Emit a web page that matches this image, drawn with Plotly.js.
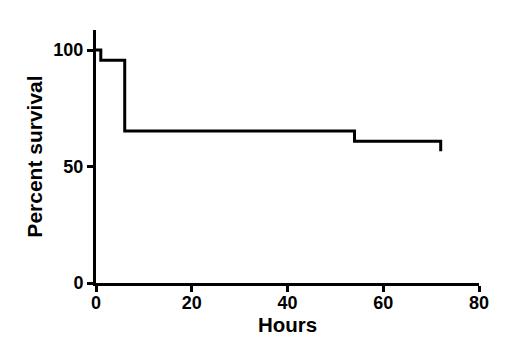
<!DOCTYPE html>
<html>
<head>
<meta charset="utf-8">
<script src="https://cdn.plot.ly/plotly-3.0.1.min.js"></script>
<style>html,body{margin:0;padding:0;background:#fff;}</style>
</head>
<body>
<div id="chart" style="width:525px;height:361px;"></div>
<script>
const hours = [0, 1, 6, 54, 72];
const survival = [100, 95.65, 65.22, 60.87, 56.52];
const xTicks = [0, 20, 40, 60, 80];
const yTicks = [0, 50, 100];

const font = {family: 'Liberation Sans, Arial, sans-serif', color: '#000'};

Plotly.newPlot('chart', [{
  x: hours,
  y: survival,
  type: 'scatter',
  mode: 'lines',
  line: {shape: 'hv', color: '#000', width: 3},
  cliponaxis: false,
  hoverinfo: 'skip'
}], {
  width: 525,
  height: 361,
  margin: {l: 96, r: 46, t: 30, b: 78},
  paper_bgcolor: '#fff',
  plot_bgcolor: '#fff',
  showlegend: false,
  xaxis: {
    range: [0, 80],
    tickvals: xTicks,
    ticktext: xTicks.map(String),
    showgrid: false,
    zeroline: false,
    showline: true,
    linecolor: '#000',
    linewidth: 3,
    ticks: 'outside',
    ticklen: 6,
    tickwidth: 3,
    tickcolor: '#000',
    ticklabelstandoff: -5,
    tickfont: Object.assign({size: 18, weight: 'bold'}, font),
    title: {text: '<b>Hours</b>', font: Object.assign({size: 20.5}, font), standoff: 2},
    automargin: false
  },
  yaxis: {
    range: [0, 108.6],
    tickvals: yTicks,
    ticktext: yTicks.map(String),
    showgrid: false,
    zeroline: false,
    showline: true,
    linecolor: '#000',
    linewidth: 3,
    ticks: 'outside',
    ticklen: 6,
    tickwidth: 3,
    tickcolor: '#000',
    tickfont: Object.assign({size: 18, weight: 'bold'}, font),
    title: {text: '<b>Percent survival</b>', font: Object.assign({size: 21}, font)},
    automargin: false
  }
}, {displayModeBar: false, staticPlot: true});
</script>
</body>
</html>
